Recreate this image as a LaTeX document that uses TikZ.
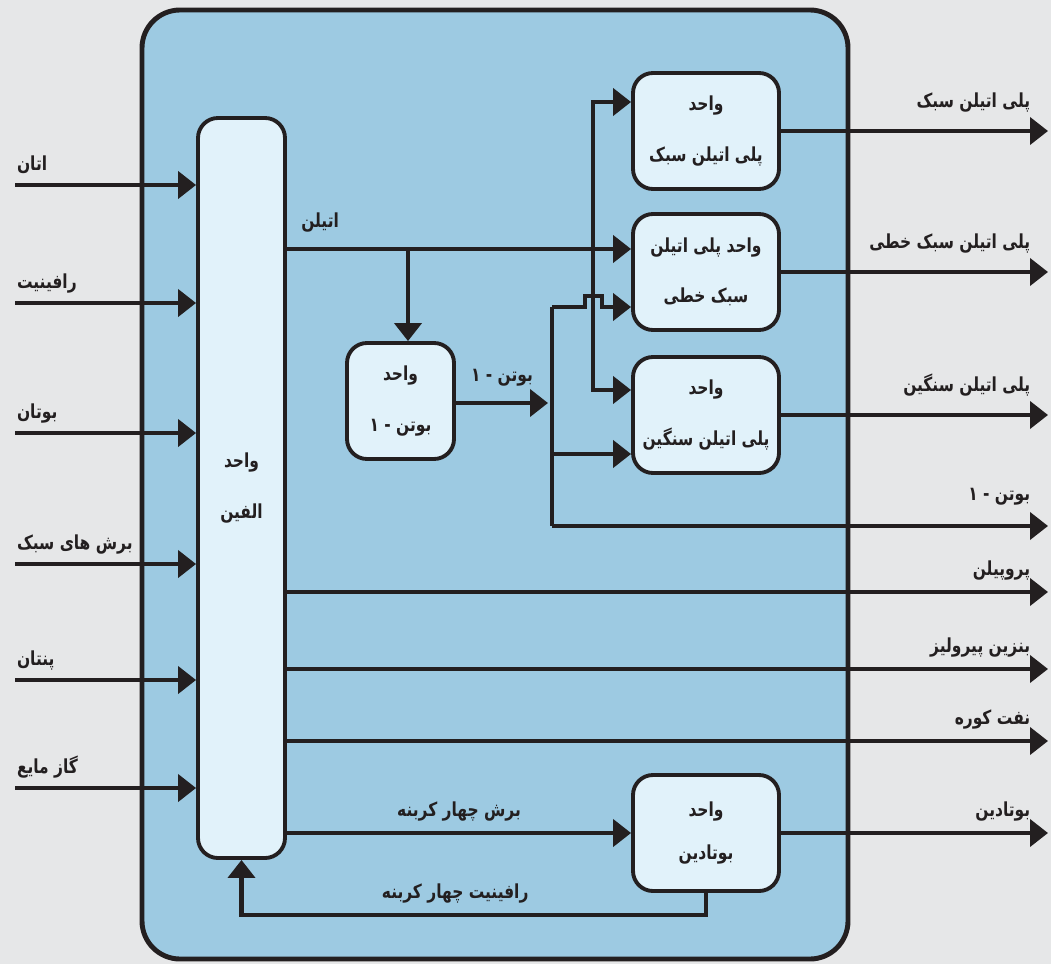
\documentclass[tikz,border=0pt]{standalone}
\usepackage{fontspec}
\usepackage{tikz}
\usetikzlibrary{arrows.meta,calc}
\usepackage{xcolor}
\TeXXeTstate=1
\newfontfamily\arfont[Script=Arabic, FakeStretch=0.8]{DejaVu Sans}
\newcommand{\fa}[1]{\beginR #1\endR}
\definecolor{PageGray}{HTML}{E6E7E8}
\definecolor{PanelBlue}{HTML}{9DCAE2}
\definecolor{UnitFill}{HTML}{E1F2FA}
\definecolor{InkDark}{HTML}{231F20}

\begin{document}
\begin{tikzpicture}[
    x=0.2mm, y=-0.2mm,
    panel/.style={draw=InkDark, fill=PanelBlue, line width=2.8pt, rounded corners=7.6mm},
    unit/.style={draw=InkDark, fill=UnitFill, line width=2.2pt, rounded corners=4mm, align=center, text=InkDark, font=\arfont\bfseries\fontsize{11}{28.5}\selectfont, minimum width=29.2mm, minimum height=23.2mm, inner sep=0pt},
    flow/.style={draw=InkDark, line width=2.3pt},
    arr/.style={flow, -{Triangle[length=3.6mm, width=5.4mm]}},
    lbl/.style={font=\arfont\bfseries\fontsize{11}{13}\selectfont, text=InkDark, inner sep=0pt}
  ]
    % Page and complex frame
    \useasboundingbox (0,0) rectangle (1051,964);
    \fill[PageGray] (0,0) rectangle (1051,964);
    \draw[panel] (142,10) rectangle (848,959);

    % Process units
    \node[unit, minimum width=17.4mm, minimum height=148mm] (olefin) at (241.5,488) {\fa{واحد}\\\fa{الفین}};
    \node[unit] (ldpe) at (706,131) {\fa{واحد}\\\fa{پلی اتیلن سبک}};
    \node[unit] (lldpe) at (706,272) {\fa{واحد پلی اتیلن}\\\fa{سبک خطی}};
    \node[unit] (hdpe) at (706,415) {\fa{واحد}\\\fa{پلی اتیلن سنگین}};
    \node[unit, minimum width=21.4mm] (butene) at (400.5,401) {\fa{واحد}\\\fa{بوتن - ۱}};
    \node[unit, font=\arfont\bfseries\fontsize{11}{24}\selectfont] (butadiene) at (706,833) {\fa{واحد}\\\fa{بوتادین}};

    % Feeds
    \coordinate (in1) at (15,185);
    \coordinate (in2) at (15,303);
    \coordinate (in3) at (15,433);
    \coordinate (in4) at (15,564);
    \coordinate (in5) at (15,680);
    \coordinate (in6) at (15,788);
    \draw[arr] (in1) node[lbl, anchor=base west, yshift=8.5pt] {\fa{اتان}} -- (olefin.west |- in1);
    \draw[arr] (in2) node[lbl, anchor=base west, yshift=8.5pt] {\fa{رافینیت}} -- (olefin.west |- in2);
    \draw[arr] (in3) node[lbl, anchor=base west, yshift=8.5pt] {\fa{بوتان}} -- (olefin.west |- in3);
    \draw[arr] (in4) node[lbl, anchor=base west, yshift=8.5pt] {\fa{برش های سبک}} -- (olefin.west |- in4);
    \draw[arr] (in5) node[lbl, anchor=base west, yshift=8.5pt] {\fa{پنتان}} -- (olefin.west |- in5);
    \draw[arr] (in6) node[lbl, anchor=base west, yshift=8.5pt] {\fa{گاز مایع}} -- (olefin.west |- in6);

    % Ethylene distribution
    \coordinate (tee) at (408,249);
    \coordinate (rise) at (593,249);
    \draw[flow] (olefin.east |- tee) node[lbl, anchor=base west, xshift=7pt, yshift=12.5pt] {\fa{اتیلن}} -- (tee);
    \draw[arr] (tee) -- (tee |- butene.north);
    \draw[arr] (tee) -- (lldpe.west |- tee);
    \draw[arr] (rise) |- ($(ldpe.west)+(0,-29)$);
    \draw[arr] (rise) |- ($(hdpe.west)+(0,-25)$);

    % Butene-1 header
    \coordinate (bus) at (552,403);
    \coordinate (tapL) at (552,307);
    \coordinate (tapH) at (552,454);
    \coordinate (tapO) at (552,526);
    \draw[arr] (butene.east |- bus) -- node[lbl, anchor=base, yshift=12.5pt] {\fa{بوتن - ۱}} ($(bus)+(-4,0)$);
    \draw[flow] (tapL) -- (tapO);
    \draw[arr] (tapL) -- ++(33,0) -- ++(0,-11) -- ++(17,0) -- ++(0,11) -- (lldpe.west |- tapL);
    \draw[arr] (tapH) -- (hdpe.west |- tapH);

    % Products
    \coordinate (out1) at (1048,131);
    \coordinate (out2) at (1048,272);
    \coordinate (out3) at (1048,415);
    \coordinate (out4) at (1048,526);
    \coordinate (out5) at (1048,592);
    \coordinate (out6) at (1048,669);
    \coordinate (out7) at (1048,741);
    \coordinate (out8) at (1048,833);
    \draw[arr] (ldpe.east) -- (out1) node[lbl, anchor=base east, xshift=-9pt, yshift=13.5pt] {\fa{پلی اتیلن سبک}};
    \draw[arr] (lldpe.east) -- (out2) node[lbl, anchor=base east, xshift=-9pt, yshift=13.5pt] {\fa{پلی اتیلن سبک خطی}};
    \draw[arr] (hdpe.east) -- (out3) node[lbl, anchor=base east, xshift=-9pt, yshift=13.5pt] {\fa{پلی اتیلن سنگین}};
    \draw[arr] (tapO) -- (out4) node[lbl, anchor=base east, xshift=-9pt, yshift=14.5pt] {\fa{بوتن - ۱}};
    \draw[arr] (olefin.east |- out5) -- (out5) node[lbl, anchor=base east, xshift=-9pt, yshift=9.5pt] {\fa{پروپیلن}};
    \draw[arr] (olefin.east |- out6) -- (out6) node[lbl, anchor=base east, xshift=-9pt, yshift=9.5pt] {\fa{بنزین پیرولیز}};
    \draw[arr] (olefin.east |- out7) -- (out7) node[lbl, anchor=base east, xshift=-9pt, yshift=9.5pt] {\fa{نفت کوره}};
    \draw[arr] (butadiene.east) -- (out8) node[lbl, anchor=base east, xshift=-9pt, yshift=9.5pt] {\fa{بوتادین}};

    % C4 loop
    \draw[arr] (olefin.east |- butadiene.west) -- node[lbl, anchor=base, yshift=9.5pt] {\fa{برش چهار کربنه}} (butadiene.west);
    \draw[arr] (butadiene.south) -- ++(0,22) -| node[lbl, pos=0.27, anchor=base, yshift=9.5pt] {\fa{رافینیت چهار کربنه}} (olefin.south);
\end{tikzpicture}
\end{document}
